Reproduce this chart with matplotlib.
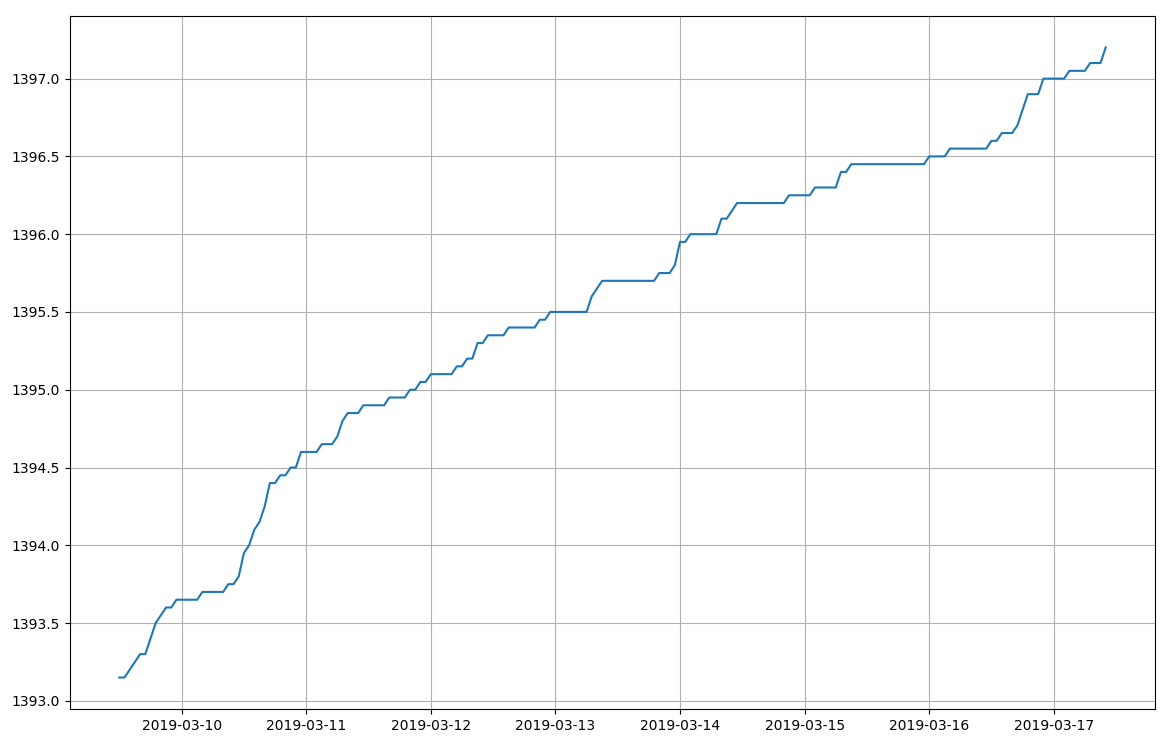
import matplotlib
matplotlib.use("Agg")
import matplotlib.pyplot as plt
import pandas as pd

start_time = "2019-03-09 12:00"
freq = "h"

values = [
    1393.15, 1393.15, 1393.20, 1393.25, 1393.30, 1393.30, 1393.40, 1393.50,
    1393.55, 1393.60, 1393.60, 1393.65,
    1393.65, 1393.65, 1393.65, 1393.65,
    1393.70, 1393.70, 1393.70, 1393.70, 1393.70,
    1393.75, 1393.75, 1393.80, 1393.95, 1394.00, 1394.10, 1394.15, 1394.25,
    1394.40, 1394.40, 1394.45, 1394.45, 1394.50, 1394.50,
    1394.60, 1394.60, 1394.60, 1394.60,
    1394.65, 1394.65, 1394.65, 1394.70, 1394.80,
    1394.85, 1394.85, 1394.85,
    1394.90, 1394.90, 1394.90, 1394.90, 1394.90,
    1394.95, 1394.95, 1394.95, 1394.95,
    1395.00, 1395.00, 1395.05, 1395.05,
    1395.10, 1395.10, 1395.10, 1395.10, 1395.10,
    1395.15, 1395.15, 1395.20, 1395.20, 1395.30, 1395.30,
    1395.35, 1395.35, 1395.35, 1395.35,
    1395.40, 1395.40, 1395.40, 1395.40, 1395.40, 1395.40,
    1395.45, 1395.45,
    1395.50, 1395.50, 1395.50, 1395.50, 1395.50, 1395.50, 1395.50, 1395.50,
    1395.60, 1395.65,
    1395.70, 1395.70, 1395.70, 1395.70, 1395.70, 1395.70, 1395.70, 1395.70,
    1395.70, 1395.70, 1395.70,
    1395.75, 1395.75, 1395.75, 1395.80, 1395.95, 1395.95,
    1396.00, 1396.00, 1396.00, 1396.00, 1396.00, 1396.00,
    1396.10, 1396.10, 1396.15,
    1396.20, 1396.20, 1396.20, 1396.20, 1396.20, 1396.20, 1396.20, 1396.20,
    1396.20, 1396.20,
    1396.25, 1396.25, 1396.25, 1396.25, 1396.25,
    1396.30, 1396.30, 1396.30, 1396.30, 1396.30,
    1396.40, 1396.40,
    1396.45, 1396.45, 1396.45, 1396.45, 1396.45, 1396.45, 1396.45, 1396.45,
    1396.45, 1396.45, 1396.45, 1396.45, 1396.45, 1396.45, 1396.45,
    1396.50, 1396.50, 1396.50, 1396.50,
    1396.55, 1396.55, 1396.55, 1396.55, 1396.55, 1396.55, 1396.55, 1396.55,
    1396.60, 1396.60,
    1396.65, 1396.65, 1396.65, 1396.70, 1396.80,
    1396.90, 1396.90, 1396.90,
    1397.00, 1397.00, 1397.00, 1397.00, 1397.00,
    1397.05, 1397.05, 1397.05, 1397.05,
    1397.10, 1397.10, 1397.10, 1397.20,
]

times = pd.date_range(start=start_time, periods=len(values), freq=freq)

fig = plt.figure(figsize=(11.7, 7.42), dpi=100)
ax = fig.add_axes([70 / 1170, 1 - 709 / 742, (1155 - 70) / 1170, (709 - 16) / 742])
ax.plot(times.to_pydatetime(), values, color="#1f77b4", linewidth=1.5)
ax.grid(True)
fig.savefig("out.png", dpi=100)
